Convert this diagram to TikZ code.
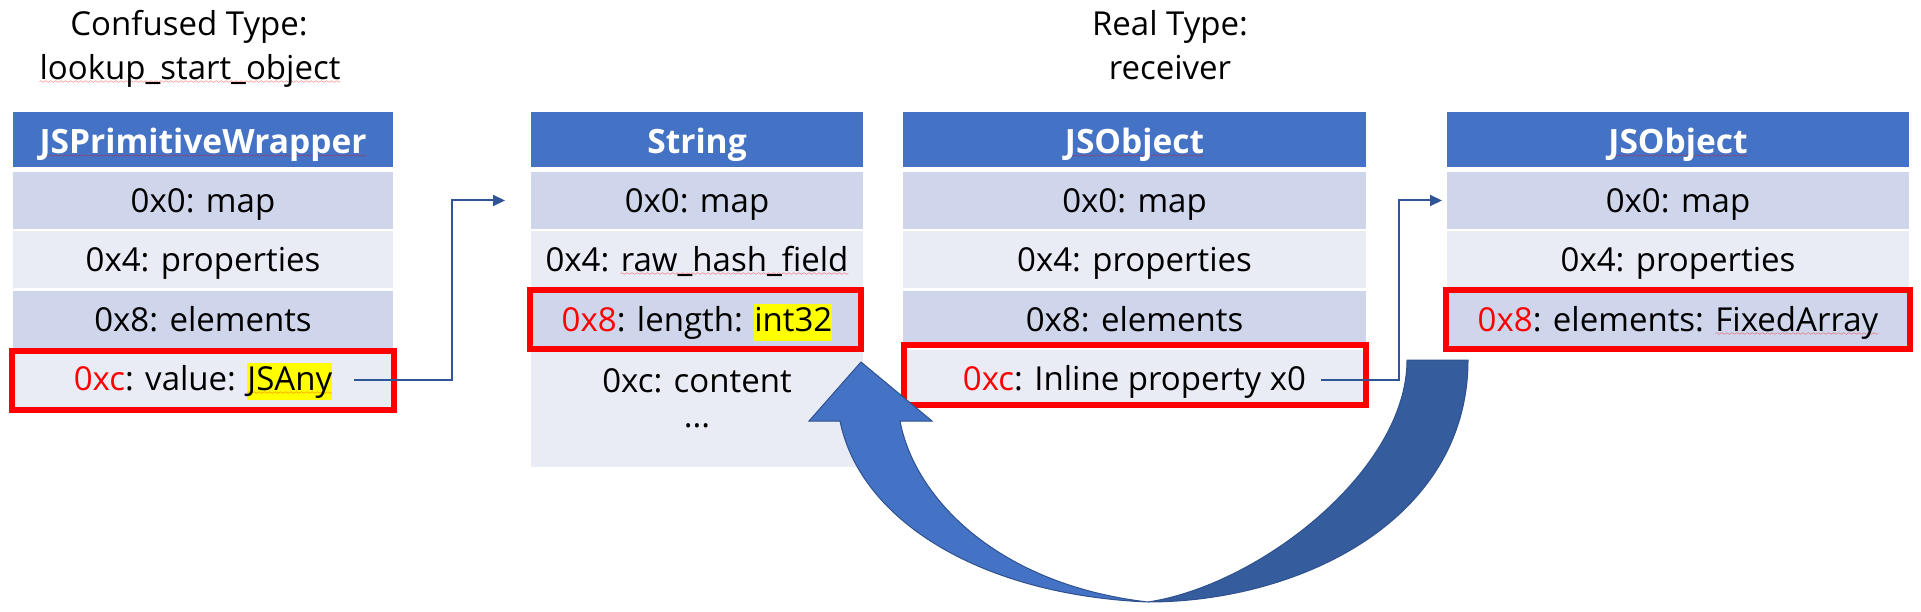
\documentclass[tikz,border=0pt]{standalone}
\usepackage{fontspec}
\setmainfont{Open Sans}
\usetikzlibrary{arrows.meta}
\definecolor{hdr}{HTML}{4472C4}
\definecolor{rowA}{HTML}{CFD5EA}
\definecolor{rowB}{HTML}{E9EBF5}
\definecolor{connc}{HTML}{2F5597}
\definecolor{arcdark}{HTML}{355C9C}
\definecolor{arcedge}{HTML}{2F528F}
\definecolor{hlyellow}{HTML}{FFFF00}
\font\wavefont=lasy6
\newcommand\sq[1]{\setbox0=\hbox{#1}\leavevmode\rlap{\lower4pt\hbox to\wd0{\color{red}\xleaders\hbox{\wavefont\char58}\hfil}}\box0}
\newcommand\hlt[1]{{\setlength\fboxsep{0pt}\colorbox{hlyellow}{\rule[-9.5pt]{0pt}{37pt}#1}}}
\newcommand\rd[1]{\textcolor{red}{#1}}
\begin{document}
\begin{tikzpicture}[x=1pt,y=-1pt,
  every node/.style={font=\fontsize{33}{40}\selectfont},
  cellbox/.style={rectangle, inner sep=0pt, outer sep=0pt, text height=30pt, text depth=6pt},
  hdrcell/.style={cellbox, fill=hdr, text=white, font=\fontsize{33.5}{40}\selectfont\bfseries, text height=32pt, text depth=4pt, minimum height=55pt},
  rowa/.style={cellbox, fill=rowA, minimum height=57pt},
  rowb/.style={cellbox, fill=rowB, minimum height=57pt},
  redbox/.style={rectangle, draw=red, line width=6pt, inner sep=0pt},
  conn/.style={draw=connc, line width=2pt, -{Triangle[length=12pt,width=11pt]}},
  ttl/.style={anchor=base, inner sep=0pt},
  arcl/.style={fill=hdr, draw=arcedge, line width=1pt},
  arcd/.style={fill=arcdark, draw=arcedge, line width=1pt},
]
\useasboundingbox (0,0) rectangle (1921,612);
\fill[white] (0,0) rectangle (1921,612);

% titles
\node[ttl] (t1a) at (189,36) {Confused Type:};
\node[ttl] (t1b) at (190,80) {\sq{lookup\_start\_object}};
\node[ttl] (t3a) at (1170,36) {Real Type:};
\node[ttl] (t3b) at (1170,80) {receiver};

% table 1
\begin{scope}[every node/.append style={minimum width=380pt}]
\node[hdrcell] (a0) at (203,139.5) {\sq{JSPrimitiveWrapper}};
\node[rowa] (a1) at (203,200.5) {0x0: map};
\node[rowb] (a2) at (203,259.5) {0x4: properties};
\node[rowa] (a3) at (203,319) {0x8: elements};
\node[rowb] (a4) at (203,378.5) {\rd{0xc}: value: \hlt{\sq{JSAny}}};
\end{scope}
\node[redbox, minimum width=382pt, minimum height=59pt] (ra) at (203,380.5) {};

% table 2
\begin{scope}[every node/.append style={minimum width=332pt}]
\node[hdrcell] (b0) at (697,139.5) {String};
\node[rowa] (b1) at (697,200.5) {0x0: map};
\node[rowb] (b2) at (697,259.5) {0x4: \sq{raw\_hash\_field}};
\node[rowa] (b3) at (697,319) {\rd{0x8}: length: \hlt{int32}};
\node[cellbox, fill=rowB, minimum height=117pt] (b4) at (697,408.5) {};
\end{scope}
\node[ttl] (b4t) at (697,392) {0xc: content};
\node[ttl] (b4d) at (697,427) {...};
\node[redbox, minimum width=331pt, minimum height=59pt] (rb) at (695.5,319.5) {};

% table 3
\begin{scope}[every node/.append style={minimum width=463pt}]
\node[hdrcell] (c0) at (1134.5,139.5) {\sq{JSObject}};
\node[rowa] (c1) at (1134.5,200.5) {0x0: map};
\node[rowb] (c2) at (1134.5,259.5) {0x4: properties};
\node[rowa] (c3) at (1134.5,319) {0x8: elements};
\node[rowb] (c4) at (1134.5,378.5) {\rd{0xc}: Inline property x0};
\end{scope}
\node[redbox, minimum width=462pt, minimum height=60pt] (rc) at (1135,375) {};

% table 4
\begin{scope}[every node/.append style={minimum width=462pt}]
\node[hdrcell] (d0) at (1678,139.5) {\sq{JSObject}};
\node[rowa] (d1) at (1678,200.5) {0x0: map};
\node[rowb] (d2) at (1678,259.5) {0x4: properties};
\node[rowa] (d3) at (1678,319) {\rd{0x8}: elements: \sq{FixedArray}};
\end{scope}
\node[redbox, minimum width=464pt, minimum height=59pt] (rd) at (1678,319.5) {};

% connectors
\coordinate (p1) at (354,380);
\coordinate (p2) at (1321,380);
\draw[conn, shorten >=26pt] (p1) -- (452,380) |- (b1.west);
\draw[conn, shorten >=5pt] (p2) -- (1399,380) |- (d1.west);

% curved block arrow
\path[arcl] (861,362) -- (932,421) -- (900,421)
  .. controls (915,500) and (1000,585) .. (1148,602)
  .. controls (980,595) and (860,520) .. (840,421)
  -- (809,421) -- cycle;
\path[arcd] (1407,360) -- (1468,360)
  .. controls (1468,520) and (1300,602) .. (1148,602)
  .. controls (1260,585) and (1407,470) .. (1407,360) -- cycle;
\end{tikzpicture}
\end{document}
